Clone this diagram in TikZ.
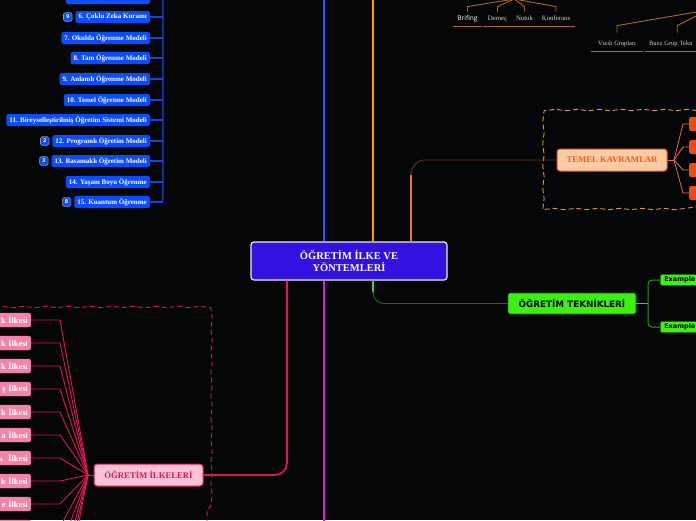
\documentclass[tikz,border=0pt]{standalone}
\usepackage{fontspec}
\setmainfont{Liberation Serif}
\newfontfamily\techfont{DejaVu Sans}
\newfontfamily\brifont{Open Sans}
\usetikzlibrary{positioning, decorations.pathmorphing}

\definecolor{bgblack}{HTML}{050608}
\definecolor{rootviolet}{HTML}{3212E0}
\definecolor{modelblue}{HTML}{0A4CFF}
\definecolor{lineblue}{HTML}{1A5CFF}
\definecolor{listblue}{HTML}{1444E6}
\definecolor{badgegray}{HTML}{8A96B4}
\definecolor{lineorange}{HTML}{FF9A00}
\definecolor{coral}{HTML}{E8743C}
\definecolor{coraldark}{HTML}{6E3420}
\definecolor{kavfill}{HTML}{FCCBA4}
\definecolor{kavred}{HTML}{F05A1E}
\definecolor{kavorange}{HTML}{F04A10}
\definecolor{goldline}{HTML}{A8700F}
\definecolor{goldfence}{HTML}{D9A21C}
\definecolor{talkgray}{HTML}{D4D4D4}
\definecolor{techgreen}{HTML}{3CF010}
\definecolor{greenline}{HTML}{36DC14}
\definecolor{greenmid}{HTML}{2A9A18}
\definecolor{greendark}{HTML}{1E6A12}
\definecolor{crimson}{HTML}{E0145A}
\definecolor{ilkefill}{HTML}{F8C4D4}
\definecolor{ilkepink}{HTML}{F284AC}
\definecolor{magentaline}{HTML}{E014E8}

\begin{document}
\begin{tikzpicture}[x=1pt, y=-1pt,
  rootnode/.style={fill=rootviolet, draw=white!85!gray, line width=1.2pt, rounded corners=3pt,
    text=white, align=center, minimum width=196pt, minimum height=38pt,
    font=\bfseries\fontsize{10.5}{11.5}\selectfont},
  kavnode/.style={fill=kavfill, draw=kavred, line width=1pt, rounded corners=3pt, text=kavred,
    minimum width=110pt, minimum height=22pt, font=\bfseries\fontsize{8.7}{9}\selectfont},
  kavbox/.style={fill=kavorange, rounded corners=2pt, minimum width=40pt, minimum height=14pt, anchor=west},
  teknode/.style={fill=techgreen, draw=greendark, line width=0.8pt, rounded corners=2.5pt, text=black,
    minimum width=128pt, minimum height=21pt, font=\techfont\bfseries\fontsize{8.8}{9}\selectfont},
  exnode/.style={fill=techgreen, draw=greendark, line width=0.6pt, rounded corners=2pt, anchor=west,
    minimum height=11pt, inner xsep=4pt, inner ysep=0pt, text=black,
    font=\techfont\bfseries\fontsize{6.5}{7}\selectfont},
  ilkenode/.style={fill=ilkefill, draw=crimson, line width=1pt, rounded corners=3pt, text=crimson,
    minimum width=109pt, minimum height=22pt, font=\bfseries\fontsize{8.7}{9}\selectfont},
  ilkebox/.style={fill=ilkepink, draw=ilkepink!80!crimson, line width=0.4pt, rounded corners=2pt,
    anchor=east, text=white, text width=52pt, align=right, inner xsep=3pt, inner ysep=0pt,
    minimum height=14pt, font=\bfseries\fontsize{8.3}{9}\selectfont},
  modelnode/.style={fill=modelblue, rounded corners=1.5pt, text=white, inner xsep=3pt, inner ysep=0pt,
    minimum height=12pt, anchor=east, font=\bfseries\fontsize{7}{8}\selectfont},
  badge/.style={fill=modelblue, draw=badgegray, line width=0.6pt, rounded corners=1.5pt,
    minimum size=8.5pt, inner sep=0pt, text=white, font=\techfont\bfseries\fontsize{5}{5}\selectfont},
  listline/.style={listblue, line width=1.1pt},
  talklabel/.style={inner xsep=4.5pt, inner ysep=3pt, text height=6pt, text depth=2pt, anchor=south,
    text=talkgray, font=\fontsize{6.8}{7}\selectfont},
  fence/.style={dashed, dash pattern=on 5pt off 3pt, line width=0.9pt, decorate,
    decoration={snake, amplitude=0.7pt, segment length=22pt}}]

  % frame
  \useasboundingbox (0,0) rectangle (696,520);
  \fill[bgblack] (0,0) rectangle (696,520);
  \clip (0,0) rectangle (696,520);

  % boundaries
  \draw[goldfence, fence] (705,110) -- (548,110) -- (548,207) -- (705,207);
  \draw[crimson, fence] (-5,307) -- (207,307) -- (207,526);

  % root and main branches
  \node[rootnode] (root) at (349,261) {ÖĞRETİM İLKE VE\\YÖNTEMLERİ};
  \node[kavnode] (kav) at (612,160) {TEMEL KAVRAMLAR};
  \node[teknode] (tek) at (572,303.5) {ÖĞRETİM TEKNİKLERİ};
  \node[ilkenode] (ilke) at (148.5,475) {ÖĞRETİM İLKELERİ};

  \coordinate (modelEnd) at (324,-6);
  \coordinate (talkEnd) at (373,-6);
  \coordinate (magEnd) at (324,526);
  \coordinate (kavX) at (411,0);
  \coordinate (ilkeX) at (287,0);
  \coordinate (tekX) at (373,0);

  \draw[lineblue, line width=2.2pt] (root.north -| modelEnd) -- (modelEnd);
  \draw[lineorange, line width=2.6pt] (root.north -| talkEnd) -- (talkEnd);
  \draw[magentaline, line width=2pt] (root.south -| magEnd) -- (magEnd);
  \draw[coraldark, line width=0.9pt, rounded corners=14pt] (root.north -| kavX) |- (kav.west);
  \draw[coral, line width=2.2pt] (root.north -| kavX) -- ++(0,-66);
  \draw[crimson, line width=1.8pt, rounded corners=12pt] (root.south -| ilkeX) |- (ilke.east);
  \draw[greendark, line width=0.9pt, rounded corners=11pt] (root.south -| tekX) |- (tek.west);
  \draw[greenline, line width=2.4pt] (root.south -| tekX) -- ++(0,11);

  % temel kavramlar
  \coordinate (kavFan) at (674,160);
  \draw[coral, line width=0.8pt] (kav.east) -- (kavFan);
  \foreach \i/\y in {1/124, 2/147, 3/170, 4/193} {
    \node[kavbox] (k\i) at (689,\y) {};
    \draw[coral, line width=0.8pt] (kavFan) -- ([xshift=-6pt]k\i.west) -- (k\i.west);
  }

  % teknikler
  \coordinate (tekFan) at (648,303.5);
  \draw[greenline, line width=1.2pt] (tek.east) -- (tekFan);
  \node[exnode] (ex1) at (660,280) {Example};
  \node[exnode] (ex2) at (660,327) {Example};
  \draw[greenmid, line width=1pt, rounded corners=4pt] (tekFan) |- (ex1.west);
  \draw[greenmid, line width=1pt, rounded corners=4pt] (tekFan) |- (ex2.west);

  % ilkeler
  \coordinate (ilkeFan) at (88,475);
  \draw[crimson, line width=1pt] (ilkeFan) -- (ilke.west);
  \foreach \i/\y/\lbl in {1/320/k İlkesi, 2/343/k İlkesi, 3/366/k İlkesi, 4/389/ş İlkesi,
      5/412/k İlkesi, 6/435/a İlkesi, 7/458/k~~İlkesi, 8/481/k İlkesi, 9/504/e İlkesi,
      10/527/{}, 11/550/{}, 12/573/{}, 13/596/{}, 14/619/{}} {
    \node[ilkebox] (p\i) at (31,\y) {\lbl};
    \draw[crimson, line width=0.9pt] (p\i.east) -- ++(29,0) -- (ilkeFan);
  }

  % modeller
  \coordinate (spine) at (163,-10);
  \node[modelnode, minimum width=84pt] (m5) at (150,-2) {};
  \draw[listline] (m5.east) -- (m5.east -| spine);
  \foreach \n/\y/\lbl in {6/17/6. Çoklu Zeka Kuramı, 7/38/7. Okulda Öğrenme Modeli,
      8/58/8. Tam Öğrenme Modeli, 9/79/9. Anlamlı Öğrenme Modeli,
      10/100/10. Temel Öğretme Modeli, 11/120/11. Bireyselleştirilmiş Öğretim Sistemi Modeli,
      12/141/12. Programlı Öğretim Modeli, 13/161/13. Basamaklı Öğretim Modeli,
      14/182/14. Yaşam Boyu Öğrenme, 15/202/15. Kuantum Öğrenme} {
    \node[modelnode] (m\n) at (150,\y) {\lbl};
    \draw[listline] (m\n.east) -- (m\n.east -| spine);
  }
  \draw[listline, rounded corners=3pt] (spine) |- (m15.east);
  \node[badge, left=3pt of m6] (b9) {9};
  \node[badge, left=3pt of m12] (b2) {2};
  \node[badge, left=3pt of m13] (b3) {3};
  \node[badge, left=3pt of m15] (b8) {8};

  % konusmalar
  \coordinate (talk) at (514,-1);
  \node[talklabel, text=white, font=\brifont\fontsize{6.6}{7}\selectfont] (brifing) at (467.5,26) {Brifing};
  \node[talklabel] (demec) at (497.5,26) {Demeç};
  \node[talklabel] (nutuk) at (524.5,26) {Nutuk};
  \node[talklabel] (konf) at (556,26) {Konferans};
  \foreach \t in {brifing, demec, nutuk, konf} {
    \draw[goldline, line width=0.9pt] (talk) -- ([yshift=5pt]\t.north) -- (\t.north);
    \draw[goldline, line width=0.9pt] (\t.south west) -- (\t.south east);
  }

  % gruplar
  \coordinate (grup) at (708,10);
  \node[talklabel, text height=10pt, minimum width=52pt, font=\fontsize{6.4}{7}\selectfont] (vizili) at (617,51) {Vızılı Grupları};
  \node[talklabel, text height=10pt, anchor=south west, text width=56pt, align=left, inner xsep=4pt,
    font=\fontsize{6.4}{7}\selectfont] (buzz) at (645,51) {Buzz Grup Tekn};
  \foreach \t in {vizili, buzz} {
    \draw[goldline, line width=0.9pt] (grup) -- ([yshift=7pt]\t.north) -- (\t.north);
    \draw[goldline, line width=0.9pt] (\t.south west) -- (\t.south east);
  }
\end{tikzpicture}
\end{document}
